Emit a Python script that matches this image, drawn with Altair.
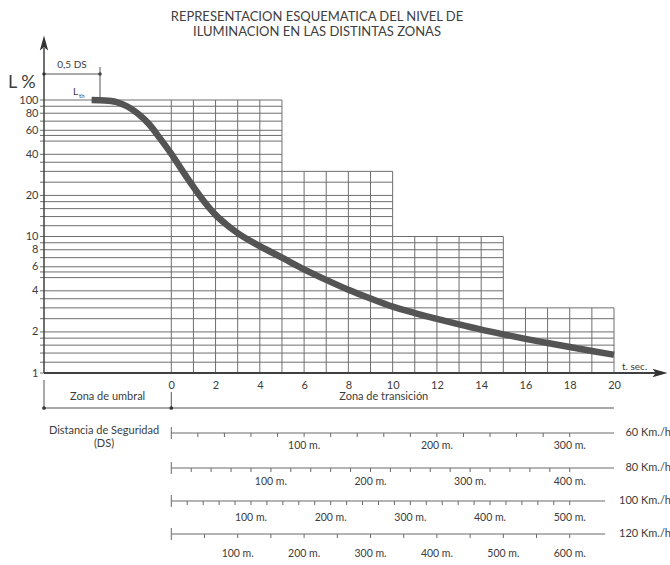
import altair as alt
import pandas as pd

FONT = "Lato"
INK = "#3c3c3c"
GRID = "#6e6e6e"

# Luminance curve (t in seconds, L in % of threshold level)
CURVE_T = [-3.6, -3.0, -2.5, -2.0, -1.5, -1.0, -0.5, 0, 0.5, 1, 1.5, 2, 2.5, 3, 4, 5,
           6, 7, 8, 9, 10, 11, 12, 13, 14, 15, 16, 17, 18, 19, 20]
CURVE_L = [100, 99.3, 97.0, 90.0, 79.3, 66.4, 52.1, 40.3, 30.4, 23.1, 17.9, 14.4, 12.2,
           10.6, 8.5, 7.0, 5.75, 4.81, 4.07, 3.51, 3.06, 2.75, 2.49, 2.27, 2.08, 1.92,
           1.78, 1.66, 1.55, 1.45, 1.36]

# Log-paper grid values inside one decade
GRID_BASE = [1, 1.2, 1.4, 1.6, 1.8, 2, 2.5, 3, 3.5, 4, 5, 5.5, 6, 7, 8, 9]
# Stepped outline of the grid: each step ends at STEP_END_T and reaches STEP_TOP_L
STEP_END_T = [5, 10, 15, 20]
STEP_TOP_L = [100, 30, 10, 3]

Y_LABELS = [100, 80, 60, 40, 20, 10, 8, 6, 4, 2, 1]
X_LABELS = [0, 2, 4, 6, 8, 10, 12, 14, 16, 18, 20]

# Safety-distance rulers
SPEEDS_KMH = [60, 80, 100, 120]
SPEED_TEXT = ["60 Km./h", "80 Km./h", "100 Km./h", "120 Km./h"]
TICK_STEP_M = [20, 20, 20, 50]
LAST_LABEL_M = [300, 400, 500, 600]
RULER_END_T = [20, 20, 19.6, 19.6]

T_MIN, T_MAX = -5.75, 20
PX_PER_T = 570 / (T_MAX - T_MIN)


def t_at(px):
    """Time value sitting px pixels right of the left axis."""
    return T_MIN + px / PX_PER_T


XS = alt.Scale(domain=[T_MIN, T_MAX], nice=False, zero=False)
YS = alt.Scale(type="log", domain=[1, 100], nice=False)
XAX = alt.Axis(values=X_LABELS, domain=False, ticks=False, grid=False, title=None,
               labelPadding=6, labelFontSize=11, labelColor=INK, labelFont=FONT,
               labelFlush=False)
YAX = alt.Axis(values=Y_LABELS, domain=False, ticks=False, grid=False, title=None,
               labelPadding=6, labelFontSize=11, labelColor=INK, labelFont=FONT,
               format="d", labelFlush=False, labelOverlap=False)


def X(f):
    return alt.X(f, type="quantitative", scale=XS, axis=XAX)


def Y(f):
    return alt.Y(f, type="quantitative", scale=YS, axis=YAX)


layers = []

# horizontal grid lines, each running to the edge of its step
hg = []
for m in (1, 10):
    for b in GRID_BASE:
        hg.append(round(b * m, 6))
hg.append(100)
rows = []
for v in hg:
    edge = max(e for e, top in zip(STEP_END_T, STEP_TOP_L) if top >= v - 1e-9)
    rows.append({"L": v, "x0": t_at(-4), "x1": edge})
layers.append(alt.Chart(pd.DataFrame(rows)).mark_rule(color=GRID, strokeWidth=1)
              .encode(x=X("x0"), x2="x1", y=Y("L")))

# vertical grid lines, one per second
rows = []
for t in range(0, 21):
    top = next(tp for e, tp in zip(STEP_END_T, STEP_TOP_L) if t <= e)
    rows.append({"t": t, "lo": 1, "hi": top})
layers.append(alt.Chart(pd.DataFrame(rows)).mark_rule(color=GRID, strokeWidth=1)
              .encode(x=X("t"), y=Y("lo"), y2="hi"))

# luminance curve
curve = pd.DataFrame({"t": CURVE_T, "L": CURVE_L})
layers.append(alt.Chart(curve).mark_line(color="#545454", strokeWidth=6.5,
                                         interpolate="monotone", strokeCap="butt")
              .encode(x=X("t"), y=Y("L")))

one = pd.DataFrame({"t": [T_MIN]})
# y axis with arrow
layers.append(alt.Chart(one).mark_rule(color="#404040", strokeWidth=1.5)
              .encode(x=X("t"), y=alt.value(273), y2=alt.value(-52)))
ARROW_UP = "M0,-1 L0.55,1 L0,0.55 L-0.55,1 Z"
layers.append(alt.Chart(one).mark_point(shape=ARROW_UP, filled=True, color="#333",
                                        size=230, opacity=1)
              .encode(x=X("t"), y=alt.value(-57)))

# x axis with arrow
xa = pd.DataFrame({"t": [T_MIN], "t2": [t_at(612)]})
layers.append(alt.Chart(xa).mark_rule(color="#404040", strokeWidth=2)
              .encode(x=X("t"), x2="t2", y=alt.value(273)))
layers.append(alt.Chart(pd.DataFrame({"t": [t_at(616)]}))
              .mark_point(shape=ARROW_UP, filled=True, color="#333", size=230,
                          opacity=1, angle=90)
              .encode(x=X("t"), y=alt.value(273)))


def text(df, **kw):
    base = dict(font=FONT, color=INK, fontSize=11, baseline="middle")
    base.update(kw)
    return alt.Chart(df).mark_text(**base)


# titles
titles = pd.DataFrame({"s": ["REPRESENTACION ESQUEMATICA DEL NIVEL DE",
                             "ILUMINACION EN LAS DISTINTAS ZONAS"],
                       "y": [-83, -68]})
layers.append(text(titles, fontSize=13, align="center", color="#404040")
              .encode(x=alt.value(273), y=alt.Y("y:Q", scale=None), text="s"))

layers.append(text(pd.DataFrame({"s": ["L %"]}), fontSize=18, align="left")
              .encode(x=alt.value(-36), y=alt.value(-17), text="s"))
layers.append(text(pd.DataFrame({"s": ["t. sec."]}), fontSize=10, align="left")
              .encode(x=X("t"), y=alt.value(267), text="s")
              .transform_calculate(t=str(t_at(578))))

# 0,5 DS marker
half = t_at(56)
ds = pd.DataFrame({"t": [T_MIN], "t2": [half]})
layers.append(alt.Chart(ds).mark_rule(color="#555", strokeWidth=1)
              .encode(x=X("t"), x2="t2", y=alt.value(-26)))
layers.append(alt.Chart(pd.DataFrame({"t": [T_MIN, half]}))
              .mark_circle(color="#333", size=12, opacity=1)
              .encode(x=X("t"), y=alt.value(-26)))
layers.append(alt.Chart(pd.DataFrame({"t": [half]})).mark_rule(color="#555", strokeWidth=1)
              .encode(x=X("t"), y=alt.value(-33), y2=alt.value(-3)))
layers.append(text(pd.DataFrame({"s": ["0,5 DS"], "t": [(T_MIN + half) / 2]}),
                   fontSize=10, align="center")
              .encode(x=X("t"), y=alt.value(-35), text="s"))
layers.append(text(pd.DataFrame({"s": ["L"]}), fontSize=10, align="left")
              .encode(x=alt.value(29), y=alt.value(-8), text="s"))
layers.append(text(pd.DataFrame({"s": ["th"]}), fontSize=6, align="left")
              .encode(x=alt.value(35), y=alt.value(-4), text="s"))

# zones below the time axis
for t0, y0 in zip([T_MIN, 0], [280, 292]):
    layers.append(alt.Chart(pd.DataFrame({"t": [t0]})).mark_rule(color="#555", strokeWidth=1)
                  .encode(x=X("t"), y=alt.value(y0), y2=alt.value(308)))
layers.append(alt.Chart(pd.DataFrame({"t": [T_MIN], "t2": [T_MAX]}))
              .mark_rule(color="#8a8a8a", strokeWidth=1.6)
              .encode(x=X("t"), x2="t2", y=alt.value(308)))
layers.append(alt.Chart(pd.DataFrame({"t": [T_MIN, 0]}))
              .mark_circle(color="#333", size=14, opacity=1)
              .encode(x=X("t"), y=alt.value(308)))
zones = pd.DataFrame({"s": ["Zona de umbral", "Zona de transición"],
                      "t": [T_MIN / 2, 9.6]})
layers.append(text(zones, align="center").encode(x=X("t"), y=alt.value(297), text="s"))

layers.append(text(pd.DataFrame({"s": ["Distancia de Seguridad", "(DS)"], "y": [331, 344]}),
                   align="center")
              .encode(x=alt.value(60), y=alt.Y("y:Q", scale=None), text="s"))

# rulers converting seconds into metres for each speed
RULER_Y = [333, 368, 401, 434]
LABEL_DY = [13, 14, 17, 20]
for kmh, name, step, last, end, yl, dy in zip(SPEEDS_KMH, SPEED_TEXT, TICK_STEP_M,
                                               LAST_LABEL_M, RULER_END_T, RULER_Y, LABEL_DY):
    ms = kmh / 3.6
    layers.append(alt.Chart(pd.DataFrame({"t": [0], "t2": [end]}))
                  .mark_rule(color="#6a6a6a", strokeWidth=1)
                  .encode(x=X("t"), x2="t2", y=alt.value(yl)))
    layers.append(alt.Chart(pd.DataFrame({"t": [0]})).mark_rule(color="#6a6a6a", strokeWidth=1)
                  .encode(x=X("t"), y=alt.value(yl - 6), y2=alt.value(yl + 6)))
    ticks = pd.DataFrame({"d": list(range(step, last + 1, step))})
    ticks["t"] = ticks["d"] / ms
    layers.append(alt.Chart(ticks).mark_rule(color="#6a6a6a", strokeWidth=1)
                  .encode(x=X("t"), y=alt.value(yl), y2=alt.value(yl + 4)))
    labs = pd.DataFrame({"d": list(range(100, last + 1, 100))})
    labs["t"] = labs["d"] / ms
    labs["s"] = labs["d"].astype(str) + " m."
    layers.append(text(labs, align="center", fontSize=10.5)
                  .encode(x=X("t"), y=alt.value(yl + dy), text="s"))
    layers.append(text(pd.DataFrame({"s": [name]}), align="right", fontSize=11)
                  .encode(x=alt.value(627), y=alt.value(yl), text="s"))

chart = alt.layer(*layers).properties(
    width=570, height=273,
    autosize=alt.AutoSizeParams(type="none"),
    padding={"left": 44, "top": 100, "right": 56, "bottom": 192},
    background="white",
).configure_view(stroke=None)

chart.save("out.html", embed_options={"renderer": "svg", "actions": False})
